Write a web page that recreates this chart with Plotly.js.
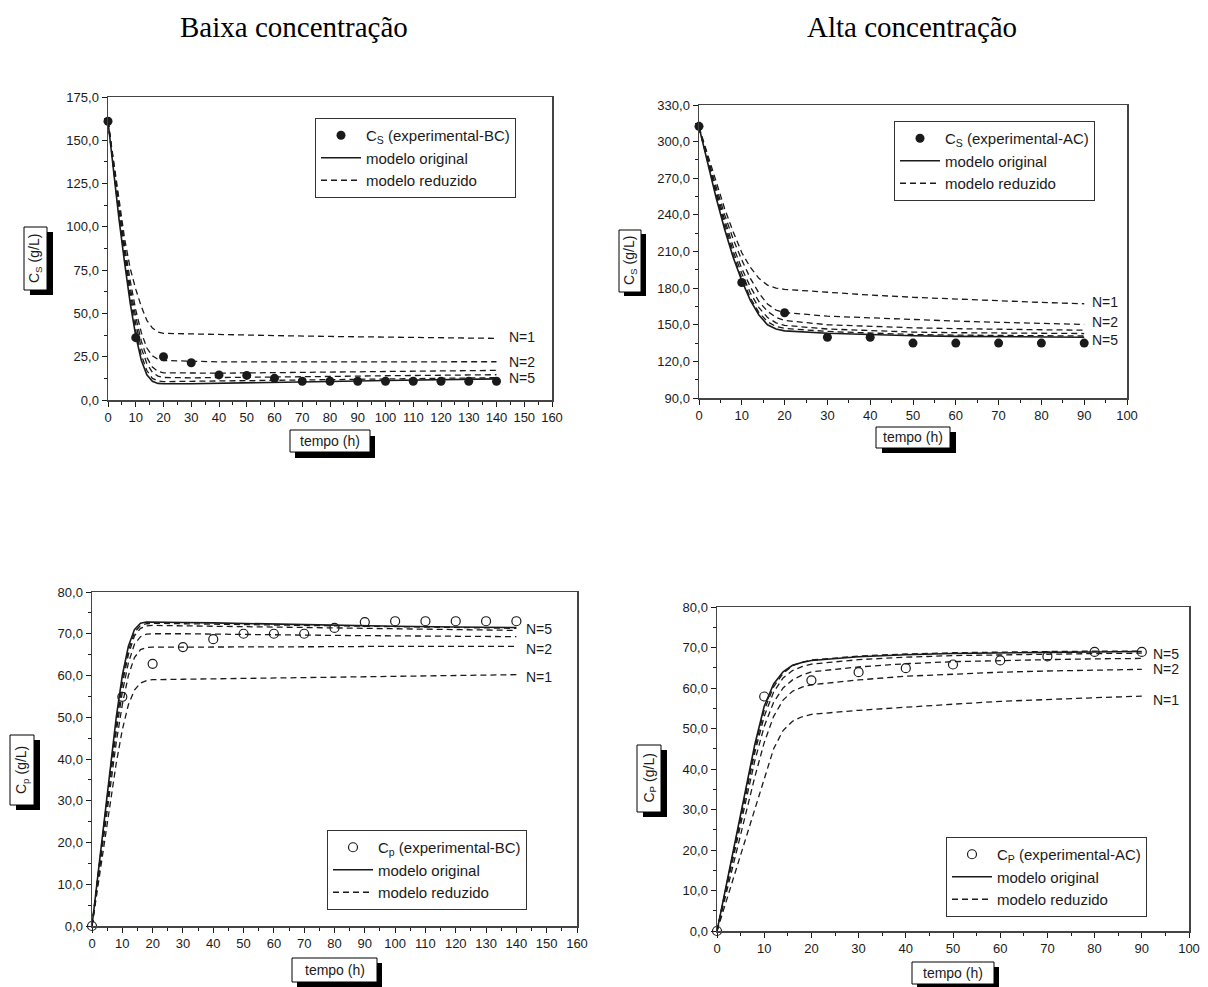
<!DOCTYPE html>
<html>
<head>
<meta charset="utf-8">
<script src="https://cdn.plot.ly/plotly-3.0.1.min.js"></script>
<style>html,body{margin:0;padding:0;background:#fff;}#chart{width:1208px;height:987px;}</style>
</head>
<body>
<div id="chart"></div>
<script>
// ---------- DATA ----------
// Panel 1: Baixa concentração, substrate C_S
var tExpBC = [0,10,20,30,40,50,60,70,80,90,100,110,120,130,140];
var csExpBC = [161,36,25,21.5,14.5,14.2,12.5,10.8,10.8,10.8,10.8,10.8,10.8,10.8,10.8];
var tModBC = [0,2,4,6,8,10,12,14,16,18,20,30,40,60,80,100,120,140];
var csOrigBC = [161,132,104,79,56,37,23,14.5,10.8,9.6,9.4,9.4,9.6,10.1,10.7,11.3,11.8,12.2];
var csN5BC = [161,133,106,81,59,40,26,17,12.5,11,10.6,10.8,11,11.5,12,12.4,12.7,12.9];
var csN4BC = [161,134,108,84,62,44,30,21,16,13.8,13,12.8,12.9,13.2,13.6,14,14.3,14.6];
var csN3BC = [161,135,110,86,65,48,34,24.5,19,16.5,15.7,15.5,15.5,15.8,16.1,16.5,16.8,17.1];
var csN2BC = [161,136,112,89,69,52,39,30,25.5,23.5,22.8,22.2,22,22,22,22,22,22.1];
var csN1BC = [161,138,115,93,76,64,54,46,41.5,39.3,38.5,38.1,37.8,37.2,36.7,36.2,35.9,35.6];

// Panel 2: Alta concentração, substrate C_S
var tExpAC = [0,10,20,30,40,50,60,70,80,90];
var csExpAC = [312.5,184.6,159.8,139.8,139.8,135,135,135,135,135];
var tModAC = [0,2,4,6,8,10,12,14,16,18,20,30,40,50,60,70,80,90];
var csOrigAC = [312,282,254,228,205,186,170,158,150,146.5,145,143,141.8,141,140.5,140.2,140,139.8];
var csN5AC = [312,283,256,230,207,188,172,160,152.5,148.5,147,144.5,143,142,141.5,141.2,141,140.8];
var csN4AC = [312,284,258,233,210,192,176,164,156,151.5,149.5,146.5,145,144,143.5,143.2,143,142.8];
var csN3AC = [312,285,260,236,214,196,181,169,161,156,153.5,150,148.5,147.5,146.8,146.2,145.8,145.5];
var csN2AC = [312,287,263,240,220,203,188,176,167,162,160,157,155.5,154.2,153,152,151,150.3];
var csN1AC = [312,289,266,245,226,209,197,188,182.5,180,179,176.5,174.3,172.5,171,169.5,168.3,167.2];

// Panel 3: Baixa concentração, product C_P
var cpExpBC = [0,54.9,62.8,66.8,68.7,70,70,70,71.4,72.8,73,73,73,73,73];
var cpOrigBC = [0,12.5,25,37.5,50,60,67,71,72.5,72.8,72.8,72.7,72.6,72.3,72,71.8,71.6,71.5];
var cpN5BC = [0,12.3,24.6,37,49,59,66,70.3,72,72.4,72.5,72.4,72.3,72,71.8,71.6,71.4,71.3];
var cpN4BC = [0,12,24,36,48,58,65,69.5,71.3,71.9,72,71.9,71.8,71.5,71.3,71.1,70.9,70.8];
var cpN3BC = [0,11.8,23.5,35,46.5,56,63,67.5,69.3,69.9,70,70,69.9,69.8,69.6,69.5,69.4,69.3];
var cpN2BC = [0,11.3,22.5,33.5,44,53,60,64.3,66.2,66.7,66.8,66.8,66.8,66.9,66.9,67,67,67];
var cpN1BC = [0,10,20,30,39,47,53,56.5,58.2,58.8,59,59.1,59.2,59.5,59.7,59.9,60.1,60.2];

// Panel 4: Alta concentração, product C_P
var cpExpAC = [0,57.9,61.9,63.9,64.9,65.8,66.8,67.8,68.9,68.9];
var cpOrigAC = [0,11.5,23,35,46,55.5,61,64,65.6,66.3,66.8,67.7,68.2,68.5,68.7,68.8,68.9,69];
var cpN5AC = [0,11.3,22.6,34.3,45,54.5,60.3,63.6,65.5,66.4,66.9,67.9,68.4,68.7,68.9,69,69.1,69.1];
var cpN4AC = [0,11,22,33.3,44,53,59,62.5,64.3,65.3,65.9,67,67.6,68,68.2,68.4,68.5,68.6];
var cpN3AC = [0,10.5,21,32,42,50.5,56.5,60,62,63.2,64,65.2,66,66.5,66.8,67,67.2,67.3];
var cpN2AC = [0,9.5,19,28.5,38,46.5,53,57,59.2,60.2,60.8,62,62.9,63.4,63.9,64.2,64.4,64.6];
var cpN1AC = [0,7.5,15,22.5,30,38,45,49.5,51.8,52.9,53.5,54.5,55.3,56,56.7,57.2,57.6,58];

var legendLabels = ['C<sub>S</sub> (experimental-BC)','C<sub>S</sub> (experimental-AC)','C<sub>p</sub> (experimental-BC)','C<sub>P</sub> (experimental-AC)'];
var modelLabels = ['modelo original','modelo reduzido'];
var nLabels = ['N=1','N=2','N=5'];
var panelTitles = ['Baixa concentração','Alta concentração'];
var xTitle = 'tempo (h)';
var yTitles = ['C<sub>S</sub> (g/L)','C<sub>S</sub> (g/L)','C<sub>p</sub> (g/L)','C<sub>P</sub> (g/L)'];

// ---------- BUILD ----------
var W = 1208, H = 987;
function px(x){return x/W;}
function py(y){return 1-y/H;}
var FONT = 'Liberation Sans, Arial, Helvetica, sans-serif';
var INK = '#1a1a1a';

var traces = [];
var panels = [
  {xa:'x', ya:'y', leg:'legend', t:tModBC, te:tExpBC, exp:csExpBC, orig:csOrigBC, ns:[csN5BC,csN4BC,csN3BC,csN2BC,csN1BC], lab:legendLabels[0], open:false, lx:10, sh:[1,0,0]},
  {xa:'x2', ya:'y2', leg:'legend2', t:tModAC, te:tExpAC, exp:csExpAC, orig:csOrigAC, ns:[csN5AC,csN4AC,csN3AC,csN2AC,csN1AC], lab:legendLabels[1], open:false, lx:6, sh:[2,2,-4]},
  {xa:'x3', ya:'y3', leg:'legend3', t:tModBC, te:tExpBC, exp:cpExpBC, orig:cpOrigBC, ns:[cpN5BC,cpN4BC,cpN3BC,cpN2BC,cpN1BC], lab:legendLabels[2], open:true, lx:8, sh:[-2,-3,-1]},
  {xa:'x4', ya:'y4', leg:'legend4', t:tModAC, te:tExpAC, exp:cpExpAC, orig:cpOrigAC, ns:[cpN5AC,cpN4AC,cpN3AC,cpN2AC,cpN1AC], lab:legendLabels[3], open:true, lx:9, sh:[-4,0,-3]}
];
var annotations = [];
panels.forEach(function(p){
  p.ns.forEach(function(arr, i){
    traces.push({x:p.t, y:arr, xaxis:p.xa, yaxis:p.ya, mode:'lines', type:'scatter',
      line:{color:INK, width:1.3, dash:'6px,4px'}, name:modelLabels[1],
      legend:p.leg, showlegend:(i===4), legendrank:3, hoverinfo:'skip'});
  });
  traces.push({x:p.t, y:p.orig, xaxis:p.xa, yaxis:p.ya, mode:'lines', type:'scatter',
    line:{color:INK, width:1.6}, name:modelLabels[0], legend:p.leg, legendrank:2});
  traces.push({x:p.te, y:p.exp, xaxis:p.xa, yaxis:p.ya, mode:'markers', type:'scatter',
    cliponaxis:false,
    marker:p.open ? {symbol:'circle-open', size:9, color:INK, line:{width:1.2, color:INK}}
                  : {symbol:'circle', size:9, color:INK},
    name:p.lab, legend:p.leg, legendrank:1});
  // N labels at the end of curves N=1, N=2, N=5
  var last = p.t.length-1;
  [[p.ns[4],nLabels[0],p.sh[0]],[p.ns[3],nLabels[1],p.sh[1]],[p.ns[0],nLabels[2],p.sh[2]]].forEach(function(q){
    annotations.push({xref:p.xa, yref:p.ya, x:p.t[last], y:q[0][last], text:q[1], showarrow:false,
      xanchor:'left', yanchor:'middle', xshift:p.lx, yshift:q[2], font:{family:FONT, size:14, color:INK}});
  });
});

function axis(d0,d1,range,dtick,minor,anchor,fmt){
  return {domain:[d0,d1], range:range, autorange:false, tick0:0, dtick:dtick, tickformat:fmt,
    ticks:'outside', ticklen:5, tickwidth:1, tickcolor:INK,
    minor:{dtick:minor, tick0:0, ticks:'outside', ticklen:3, tickwidth:1, tickcolor:INK, showgrid:false},
    showline:true, linecolor:'#444', linewidth:1.5, mirror:true, showgrid:false, zeroline:false,
    anchor:anchor, tickfont:{family:FONT, size:13, color:INK}, fixedrange:true};
}

var shapes = [];
function titleBox(x0,y0,x1,y1,dx,dy,text,angle){
  shapes.push({type:'rect', xref:'paper', yref:'paper', x0:px(x0+dx), x1:px(x1+dx), y0:py(y0+dy), y1:py(y1+dy),
    fillcolor:'#000', line:{width:0}});
  shapes.push({type:'rect', xref:'paper', yref:'paper', x0:px(x0), x1:px(x1), y0:py(y0), y1:py(y1),
    fillcolor:'#fff', line:{width:1, color:'#000'}});
  annotations.push({xref:'paper', yref:'paper', x:px((x0+x1)/2), y:py((y0+y1)/2), text:text, textangle:angle||0,
    showarrow:false, xanchor:'center', yanchor:'middle', font:{family:FONT, size:14, color:INK}});
}
titleBox(290,430,370,452,5,6,xTitle);
titleBox(24,227,47,290,6,5,yTitles[0],-90);
titleBox(876,427,950,448,6,5,xTitle);
titleBox(619,230,641,292,5,4,yTitles[1],-90);
titleBox(292,958,377,982,5,5,xTitle);
titleBox(10,735,34,805,6,5,yTitles[2],-90);
titleBox(912,962,994,984,5,5,xTitle);
titleBox(637,745,661,812,6,5,yTitles[3],-90);

annotations.push({xref:'paper', yref:'paper', x:px(294), y:py(27), text:panelTitles[0], showarrow:false,
  xanchor:'center', yanchor:'middle', font:{family:'Liberation Serif, Times New Roman, serif', size:29, color:'#000'}});
annotations.push({xref:'paper', yref:'paper', x:px(912), y:py(27), text:panelTitles[1], showarrow:false,
  xanchor:'center', yanchor:'middle', font:{family:'Liberation Serif, Times New Roman, serif', size:29, color:'#000'}});

function legend(x,y){
  return {x:px(x), y:py(y), xanchor:'left', yanchor:'top', bgcolor:'#fff', bordercolor:'#333', borderwidth:1,
    font:{family:FONT, size:15, color:INK}, tracegroupgap:0, itemwidth:40, itemclick:false, itemdoubleclick:false};
}

var layout = {
  width:W, height:H, margin:{l:0,r:0,t:0,b:0}, paper_bgcolor:'#fff', plot_bgcolor:'#fff',
  separators:',.', showlegend:true,
  xaxis: axis(px(108),px(552),[0,160],10,5,'y','d'),
  yaxis: axis(py(400),py(97),[0,175],25,12.5,'x','.1f'),
  xaxis2: axis(px(699),px(1127),[0,100],10,5,'y2','d'),
  yaxis2: axis(py(398),py(105),[90,330],30,15,'x2','.1f'),
  xaxis3: axis(px(92),px(577),[0,160],10,5,'y3','d'),
  yaxis3: axis(py(926),py(592),[0,80],10,5,'x3','.1f'),
  xaxis4: axis(px(717),px(1189),[0,100],10,5,'y4','d'),
  yaxis4: axis(py(931),py(607),[0,80],10,5,'x4','.1f'),
  legend: legend(315,118),
  legend2: legend(894,121),
  legend3: legend(327,830),
  legend4: legend(946,837),
  shapes:shapes, annotations:annotations
};
Plotly.newPlot('chart', traces, layout, {staticPlot:true, displayModeBar:false});
</script>
</body>
</html>
